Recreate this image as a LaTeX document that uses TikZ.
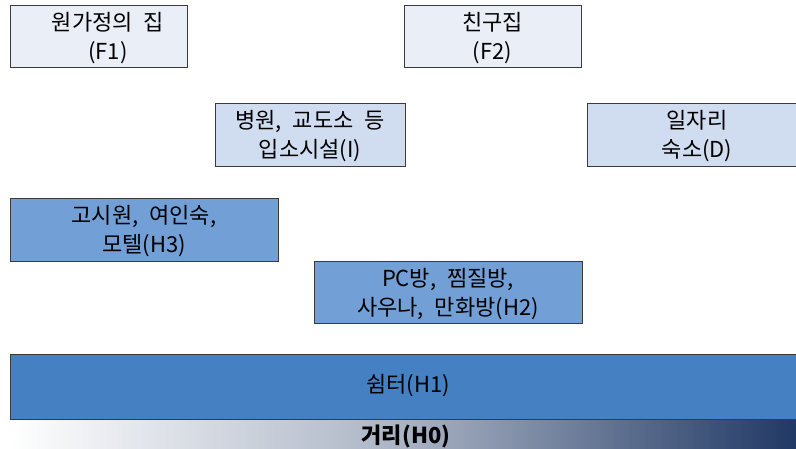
\documentclass[tikz,border=0pt]{standalone}
\usepackage{fontspec}
\setmainfont{Noto Sans CJK KR}[WordSpace=2.2]
\definecolor{fpale}{HTML}{E9EEF7}
\definecolor{ipale}{HTML}{D0DCEF}
\definecolor{hmid}{HTML}{729FD6}
\definecolor{hdark}{HTML}{4480C2}
\definecolor{navy}{HTML}{203864}
\definecolor{edge}{HTML}{3A3A3A}
\tikzset{
  boxbase/.style={draw=edge, line width=0.9pt, align=center, inner sep=0pt,
    font=\fontsize{22}{29}\selectfont, text=black},
  fbox/.style={boxbase, fill=fpale},
  ibox/.style={boxbase, fill=ipale},
  hbox/.style={boxbase, fill=hmid},
  sbox/.style={boxbase, fill=hdark},
  lbl/.style={font=\fontsize{22}{29}\selectfont, align=center},
}
\begin{document}
\begin{tikzpicture}[x=1pt,y=-1pt]
\useasboundingbox (0,0) rectangle (796,448);
\node[fbox, minimum width=177pt, minimum height=62pt] (f1) at (98.5,36) {};
\node[lbl] (f1t) at (108,38) {원가정의 집\\(F1)};
\node[fbox, minimum width=177pt, minimum height=62pt] (f2) at (492.5,36) {};
\node[lbl] (f2t) at (f2.center) [yshift=-2pt] {친구집\\(F2)};
\node[ibox, minimum width=190pt, minimum height=63pt] (i) at (310,134.5) {};
\node[lbl] (it) at (i.center) [yshift=-2pt] {병원, 교도소 등\\입소시설(I)};
\node[ibox, minimum width=212pt, minimum height=63pt] (d) at (693,134.5) {};
\node[lbl] (dt) at (697,134.5) [yshift=-2pt] {일자리\\숙소(D)};
\node[hbox, minimum width=268pt, minimum height=63pt] (h3) at (144,229.5) {};
\node[lbl] (h3t) at (h3.center) [yshift=-2pt] {고시원, 여인숙,\\모텔(H3)};
\node[hbox, minimum width=268pt, minimum height=62pt] (h2) at (448,292) {};
\node[lbl] (h2t) at (h2.center) [yshift=-2pt] {PC방, 찜질방,\\사우나, 만화방(H2)};
\shade[left color=white, right color=navy, middle color=white!62!navy] (10,419) rectangle (797,449);
\node[sbox, minimum width=790pt, minimum height=65pt, anchor=north west] (h1) at (10,354) {};
\node[lbl] (h1t) at (408,386) {쉼터(H1)};
\node[font=\fontsize{22}{29}\selectfont\bfseries, inner sep=0pt] (h0) at (406,436) {거리(H0)};
\end{tikzpicture}
\end{document}
